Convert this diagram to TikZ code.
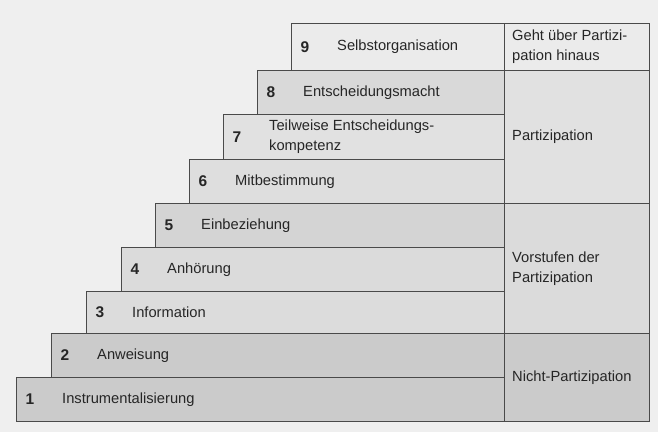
\documentclass[tikz,border=0pt]{standalone}
\usepackage{fontspec}
\setmainfont{Liberation Sans}
\usetikzlibrary{positioning}
\definecolor{bggray}{HTML}{EFEFEF}
\definecolor{linegray}{HTML}{4A4A4A}
\definecolor{textgray}{HTML}{262626}
\definecolor{fillnine}{HTML}{EBEBEB}
\definecolor{filleight}{HTML}{D9D9D9}
\definecolor{fillseven}{HTML}{E1E1E1}
\definecolor{fillsix}{HTML}{DEDEDE}
\definecolor{fillfive}{HTML}{D4D4D4}
\definecolor{fillfour}{HTML}{DBDBDB}
\definecolor{fillthree}{HTML}{DCDCDC}
\definecolor{filllow}{HTML}{CBCBCB}

\begin{document}
\begin{tikzpicture}[x=1pt, y=-1pt,
    stepbox/.style={draw=linegray, line width=0.8pt, inner sep=0pt, anchor=north west},
    num/.style={font=\fontsize{15.5}{17}\selectfont\bfseries, text=textgray},
    lbl/.style={font=\fontsize{14.7}{20}\selectfont, text=textgray, anchor=west, align=left, inner sep=0pt}
]
\fill[bggray] (0,0) rectangle (658,432);
\useasboundingbox (0,0) rectangle (658,432);

% Steps, bottom to top
\node[stepbox, fill=filllow, minimum width=488pt, minimum height=44pt] (s1) at (16,377) {};
\node[stepbox, fill=filllow, minimum width=453pt, minimum height=44pt] (s2) at (51,333) {};
\node[stepbox, fill=fillthree, minimum width=418pt, minimum height=42pt] (s3) at (86,291) {};
\node[stepbox, fill=fillfour, minimum width=383pt, minimum height=44pt] (s4) at (121,247) {};
\node[stepbox, fill=fillfive, minimum width=349pt, minimum height=44pt] (s5) at (155,203) {};
\node[stepbox, fill=fillsix, minimum width=315pt, minimum height=44pt] (s6) at (189,159) {};
\node[stepbox, fill=fillseven, minimum width=281pt, minimum height=45pt] (s7) at (223,114) {};
\node[stepbox, fill=filleight, minimum width=247pt, minimum height=44pt] (s8) at (257,70) {};
\node[stepbox, fill=fillnine, minimum width=213pt, minimum height=47pt] (s9) at (291,23) {};

% Numbers and labels
\node[num] (n1) at ([xshift=14pt]s1.west) {1};
\node[lbl] (t1) at ([xshift=46pt]s1.west) {Instrumentalisierung};
\node[num] (n2) at ([xshift=14pt]s2.west) {2};
\node[lbl] (t2) at ([xshift=46pt]s2.west) {Anweisung};
\node[num] (n3) at ([xshift=14pt]s3.west) {3};
\node[lbl] (t3) at ([xshift=46pt]s3.west) {Information};
\node[num] (n4) at ([xshift=14pt]s4.west) {4};
\node[lbl] (t4) at ([xshift=46pt]s4.west) {Anhörung};
\node[num] (n5) at ([xshift=14pt]s5.west) {5};
\node[lbl] (t5) at ([xshift=46pt]s5.west) {Einbeziehung};
\node[num] (n6) at ([xshift=14pt]s6.west) {6};
\node[lbl] (t6) at ([xshift=46pt]s6.west) {Mitbestimmung};
\node[num] (n7) at ([xshift=14pt]s7.west) {7};
\node[lbl] (t7) at ([xshift=46pt]s7.west) {Teilweise Entscheidungs-\\kompetenz};
\node[num] (n8) at ([xshift=14pt]s8.west) {8};
\node[lbl] (t8) at ([xshift=46pt]s8.west) {Entscheidungsmacht};
\node[num] (n9) at ([xshift=14pt]s9.west) {9};
\node[lbl] (t9) at ([xshift=46pt]s9.west) {Selbstorganisation};

% Right column
\node[stepbox, fill=filllow, minimum width=145pt, minimum height=88pt] (c1) at (504,333) {};
\node[stepbox, fill=fillfour, minimum width=145pt, minimum height=130pt] (c2) at (504,203) {};
\node[stepbox, fill=fillseven, minimum width=145pt, minimum height=133pt] (c3) at (504,70) {};
\node[stepbox, fill=fillnine, minimum width=145pt, minimum height=47pt] (c4) at (504,23) {};
\node[lbl] (g1) at ([xshift=8pt]c1.west) {Nicht-Partizipation};
\node[lbl] (g2) at ([xshift=8pt]c2.west) {Vorstufen der\\Partizipation};
\node[lbl] (g3) at ([xshift=8pt]c3.west) {Partizipation};
\node[lbl] (g4) at ([xshift=8pt]c4.west) {Geht über Partizi-\\pation hinaus};
\end{tikzpicture}
\end{document}
